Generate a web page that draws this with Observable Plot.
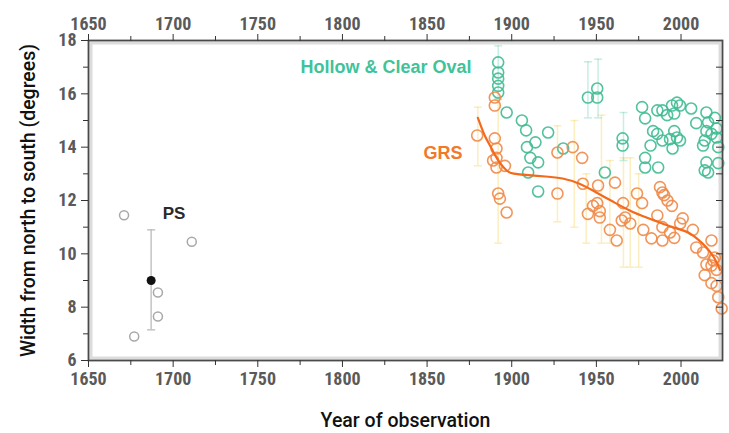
<!DOCTYPE html>
<html><head><meta charset="utf-8">
<script src="https://cdn.jsdelivr.net/npm/d3@7"></script>
<script src="https://cdn.jsdelivr.net/npm/@observablehq/plot@0.6"></script>
<style>
body{margin:0;background:#fff;}
#chart svg{font-family:Roboto,"Liberation Sans",sans-serif;}
</style></head>
<body><div id="chart"></div>
<script>
// --- PS (Permanent Spot) observations
const psYear  = [1671, 1677, 1691, 1691, 1711];
const psWidth = [11.45, 6.9, 8.55, 7.65, 10.45];
const psMeanYear = [1687];
const psMean = [9.0];
const psLow = [7.15];
const psHigh = [10.9];

// --- Hollow & Clear Oval
const ovalYear = [1892,1892,1892,1892,1892,1897,1906,1908.5,1914,1909,1911,1915.6,1909.7,1921.5,1930.4,1915.6,
  1945,1950.5,1950.5,1965.5,1965.5,1955,1977,1978.8,1986,1989,1991.8,1994.7,1997.6,1999.4,1996,2006,
  1983.5,1986,1989,1993.5,1996,1997.6,1999.4,1995,1982,1978.8,1978.8,1986.5,2009,2015,2016,2015,2014,2013,
  2015,2014,2021,2021,2022,2022,2016,2020,2018];
const ovalWidth = [17.18,16.8,16.57,16.3,16.05,15.3,15.0,14.63,14.18,14.0,13.6,13.43,13.05,14.55,13.95,12.34,
  15.86,16.2,15.86,14.33,14.06,13.05,15.5,15.08,15.38,15.38,15.2,15.56,15.67,15.56,15.26,15.45,
  14.6,14.5,14.25,14.3,14.6,14.36,14.25,13.95,14.06,13.6,13.24,13.24,14.9,15.3,14.93,14.6,14.25,14.06,
  13.43,13.13,14.7,14.36,14.0,13.4,13.05,15.1,14.5];
const ovalErrYear = [1892, 1945, 1951, 1966];
const ovalErrLow  = [15.8, 15.1, 15.1, 13.5];
const ovalErrHigh = [17.8, 17.2, 17.3, 15.3];

// --- GRS
const grsYear = [1879.6,1890,1890,1890,1891,1891,1889,1896,1891,1892,1893,1897,1927,1936,1941.6,1942,1927,1945,
  1950.5,1951,1961,1952,1952,1965.8,1967,1965,1970,1977.7,1974,1977,1987.6,1989,1990,1992,1994.6,1986,1989,
  1993.5,1996,1982.5,1989,1999.5,2001,2007,2009,2013,2018,2014,2015,2018,2019,2020,2021,2018,2021,2022,2024,
  1958,1962,1948];
const grsWidth = [14.44,15.86,15.56,14.33,13.95,13.6,13.5,13.3,13.24,12.26,12.07,11.55,13.8,14.0,13.6,12.63,12.26,11.5,
  11.9,12.56,12.67,11.6,11.36,11.9,11.36,11.25,11.14,10.9,12.26,11.9,12.5,12.3,12.2,12.0,11.8,11.44,11.0,
  10.8,10.6,10.58,10.5,11.14,11.33,10.9,10.24,10.05,10.5,9.2,9.6,9.56,9.75,9.86,9.4,8.9,8.8,8.37,7.95,
  10.9,10.5,11.8];
const grsErrYear = [1880,1892,1927,1937,1944,1953,1958,1966,1970,1975];
const grsErrLow  = [13.3,10.4,11.2,11.0,10.4,10.4,10.4,9.5,9.5,9.5];
const grsErrHigh = [15.5,15.8,14.8,15.0,13.0,15.2,13.5,13.6,13.6,13.0];

// GRS trend
const trendYear  = [1880,1884,1887,1890,1893,1897,1900,1910,1920,1930,1940,1950,1960,1970,1980,1990,2000,2005,2010,2015,2020,2023];
const trendWidth = [15.1,14.4,14.1,13.7,13.4,13.1,13.0,12.95,12.9,12.85,12.65,12.3,11.95,11.6,11.35,11.1,10.9,10.8,10.55,10.25,9.85,9.4];

// ticks and labels
const xMajor = [1650,1700,1750,1800,1850,1900,1950,2000];
const xMinor = [1675,1725,1775,1825,1875,1925,1975];
const yMajor = [6,8,10,12,14,16,18];
const yMinor = [7,9,11,13,15,17];
const yAll = [7,8,9,10,11,12,13,14,15,16,17];
const labels = [
  {text:"Hollow & Clear Oval", year:1825.7, width:16.99, color:"#3fc39a", size:18},
  {text:"GRS", year:1859.4, width:13.76, color:"#f2782a", size:18},
  {text:"PS", year:1700.5, width:11.51, color:"#2a2a2a", size:17}
];

const zip = (a,b) => a.map((v,i)=>({year:v, width:b[i]}));
const ps = zip(psYear, psWidth);
const oval = zip(ovalYear, ovalWidth);
const grs = zip(grsYear, grsWidth);
const trend = zip(trendYear, trendWidth);
const errs = (ys, lo, hi, m) => ys.map((y,i)=>({year:y, lo:lo[i], hi:hi[i], mid: m ? m[i] : null}));
const psErr = errs(psMeanYear, psLow, psHigh, psMean);
const ovalErr = errs(ovalErrYear, ovalErrLow, ovalErrHigh);
const grsErr = errs(grsErrYear, grsErrLow, grsErrHigh);

const capSymbol = {draw(ctx, size){ const r = Math.sqrt(size/Math.PI); ctx.moveTo(-r,0); ctx.lineTo(r,0);} };
function errMarks(data, color, opacity){
  return [
    Plot.ruleX(data, {x:"year", y1:"lo", y2:"hi", stroke:color, strokeOpacity:opacity, strokeWidth:1.5}),
    Plot.dot(data, {x:"year", y:"lo", symbol:capSymbol, r:4, stroke:color, strokeOpacity:opacity, strokeWidth:1.5}),
    Plot.dot(data, {x:"year", y:"hi", symbol:capSymbol, r:4, stroke:color, strokeOpacity:opacity, strokeWidth:1.5})
  ];
}
const tickFont = {fontFamily:"'Liberation Sans Narrow','Roboto Condensed','DejaVu Sans Condensed',sans-serif", fontSize:18, fontWeight:"bold", fill:"#5a5a5a", stroke:"#333", label:null, tickFormat:d=>String(d)};

const chart = Plot.plot({
  width: 729, height: 433,
  marginLeft: 88, marginRight: 7, marginTop: 40, marginBottom: 73,
  x: {domain:[1650, 2024.5]},
  y: {domain:[6, 18]},
  marks: [
    Plot.frame({stroke:"#dcdcdc", strokeWidth:3, inset:2.5}),
    ...errMarks(grsErr, "#f3cf4a", 0.35),
    ...errMarks(ovalErr, "#5ccfb0", 0.35),
    ...errMarks(psErr, "#bdbdbd", 0.9),
    Plot.dot(ps, {x:"year", y:"width", r:4.5, stroke:"#a8a8a8", strokeWidth:1.5}),
    Plot.dot(psErr, {x:"year", y:"mid", r:4.5, fill:"#111"}),
    Plot.dot(oval, {x:"year", y:"width", r:5.5, stroke:"#3fbb93", strokeWidth:1.6, strokeOpacity:0.9}),
    Plot.dot(grs, {x:"year", y:"width", r:5.5, stroke:"#f08a48", strokeWidth:1.6, strokeOpacity:0.9}),
    Plot.line(trend, {x:"year", y:"width", curve:"basis", stroke:"#f46a1c", strokeWidth:2.2}),
    Plot.text(labels, {x:"year", y:"width", text:"text", fill:d=>d.color, fontSize:d=>d.size, fontWeight:"bold", fontFamily:"'Liberation Sans',Arial,sans-serif"}),
    Plot.frame({stroke:"#4a4a4a", strokeWidth:1.8}),
    Plot.axisX(xMajor, {anchor:"top", tickSize:7, tickPadding:4, ...tickFont}),
    Plot.axisX(xMinor, {anchor:"top", tickSize:5, text:null, label:null, stroke:"#333"}),
    Plot.axisX(xMajor, {anchor:"bottom", tickSize:7, tickPadding:5, ...tickFont}),
    Plot.axisX(xMinor, {anchor:"bottom", tickSize:5, text:null, label:null, stroke:"#333"}),
    Plot.axisY(yMajor, {anchor:"left", tickSize:7, tickPadding:5, ...tickFont}),
    Plot.axisY(yMinor, {anchor:"left", tickSize:5, text:null, label:null, stroke:"#333"}),
    Plot.axisY(yAll, {anchor:"right", tickSize:-7, text:null, label:null, stroke:"#333"}),
    Plot.text(["Year of observation"], {frameAnchor:"bottom", dy:66, fontSize:19.5, fontWeight:500, fill:"#111"}),
    Plot.text(["Width from north to south (degrees)"], {frameAnchor:"left", textAnchor:"middle", dx:-60, rotate:-90, fontSize:19.5, fontWeight:500, fill:"#111"})
  ]
});
document.getElementById("chart").appendChild(chart);
</script>
</body></html>
